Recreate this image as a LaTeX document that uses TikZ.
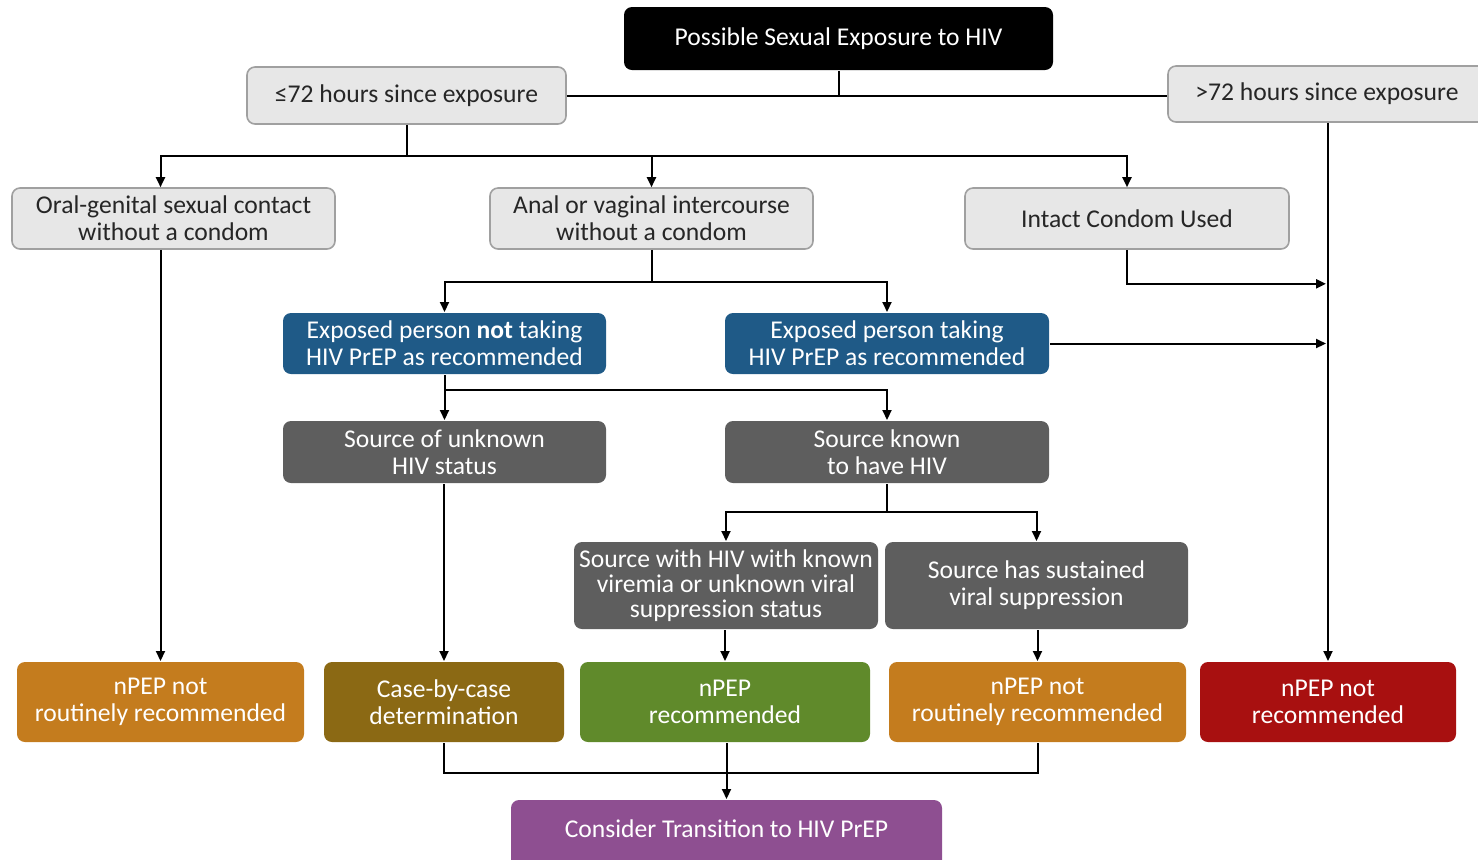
\documentclass[tikz,border=0pt]{standalone}
\usepackage{fontspec}
\setmainfont{Carlito}
\usetikzlibrary{arrows.meta}
\definecolor{boxgray}{RGB}{231,231,231}
\definecolor{boxline}{RGB}{160,160,160}
\definecolor{boxtext}{RGB}{38,38,38}
\definecolor{myblue}{RGB}{31,90,135}
\definecolor{mydark}{RGB}{94,94,94}
\definecolor{myorange}{RGB}{196,124,30}
\definecolor{myolive}{RGB}{139,105,20}
\definecolor{mygreen}{RGB}{96,138,43}
\definecolor{myred}{RGB}{168,16,16}
\definecolor{mypurple}{RGB}{142,79,145}
\begin{document}
\begin{tikzpicture}[x=0.5pt,y=-0.5pt,line width=1pt,
  box/.style={rounded corners=4pt,align=center,inner sep=0pt,
    font=\fontsize{12.8}{13.5}\selectfont},
  sz/.style n args={2}{minimum width=#1*0.5pt,minimum height=#2*0.5pt},
  lgbox/.style={box,fill=boxgray,draw=boxline,line width=0.8pt,text=boxtext},
  fbox/.style={box,fill=#1,text=white},
  arr/.style={-{Triangle[length=5pt,width=4.5pt]}}]

  \useasboundingbox (0,0) rectangle (1478,859);

  % top of the tree
  \node[fbox=black,sz={429}{63}] (top) at (838.5,38.5) {Possible Sexual Exposure to HIV};
  \node[lgbox,sz={319}{57}] (le72) at (406.5,95.5) {≤72 hours since exposure};
  \node[lgbox,sz={318}{56}] (gt72) at (1327,94) {>72 hours since exposure};

  \node[lgbox,sz={323}{61}] (oral) at (173.5,218.5) {Oral-genital sexual contact\\without a condom};
  \node[lgbox,sz={323}{61}] (anal) at (651.5,218.5) {Anal or vaginal intercourse\\without a condom};
  \node[lgbox,sz={324}{61}] (intact) at (1127,218.5) {Intact Condom Used};

  \node[fbox=myblue,sz={323}{61}] (noprep) at (444.5,343.5) {Exposed person \textbf{not} taking\\HIV PrEP as recommended};
  \node[fbox=myblue,sz={324}{61}] (prep) at (887,343.5) {Exposed person taking\\HIV PrEP as recommended};

  \node[fbox=mydark,sz={323}{62}] (unknown) at (444.5,452) {Source of unknown\\HIV status};
  \node[fbox=mydark,sz={324}{62}] (known) at (887,452) {Source known\\to have HIV};

  \node[fbox=mydark,sz={304}{87},font=\fontsize{12.8}{12.5}\selectfont] (viremia) at (726,585.5)
    {Source with HIV with known\\viremia or unknown viral\\suppression status};
  \node[fbox=mydark,sz={303}{87}] (supp) at (1036.5,585.5) {Source has sustained\\viral suppression};

  % outcomes
  \node[fbox=myorange,sz={287}{80}] (nrr1) at (160.5,702) {nPEP not\\routinely recommended};
  \node[fbox=myolive,sz={240}{80}] (case) at (444,702) {Case-by-case\\determination};
  \node[fbox=mygreen,sz={290}{80}] (rec) at (725,702) {nPEP\\recommended};
  \node[fbox=myorange,sz={297}{80}] (nrr2) at (1037.5,702) {nPEP not\\routinely recommended};
  \node[fbox=myred,sz={256}{80}] (notrec) at (1328,702) {nPEP not\\recommended};

  \node[fbox=mypurple,sz={431}{70},text height=9pt,text depth=7pt] (consider) at (726.5,835)
    {Consider Transition to HIV PrEP};

  % junctions
  \path (le72.south) ++(0,31) coordinate (j1);
  \path (anal.south) ++(0,32) coordinate (j2);
  \path (noprep.south) ++(0,15) coordinate (j3);
  \path (known.south) ++(0,28) coordinate (j4);
  \path (intact.south) ++(0,34) coordinate (j5);
  \path (case.south) ++(0,30) coordinate (j6);

  \draw (top.south) -- (top.south |- le72.east);
  \draw (le72.east) -- (le72.east -| gt72.west);

  \draw (le72.south) -- (j1);
  \draw[arr] (j1) -| (nrr1 |- oral.north);
  \draw[arr] (anal.north |- j1) -- (anal.north);
  \draw[arr] (j1) -| (intact.north);

  \draw (anal.south) -- (j2);
  \draw[arr] (j2) -| (noprep.north);
  \draw[arr] (j2) -| (prep.north);

  \draw (noprep.south) -- (j3);
  \draw[arr] (j3) -- (unknown.north);
  \draw[arr] (j3) -| (known.north);

  \draw (known.south) -- (j4);
  \draw[arr] (j4) -| (viremia.north);
  \draw[arr] (j4) -| (supp.north);

  % legs into the right column
  \draw[arr] (notrec |- gt72.south) -- (notrec.north);
  \draw[arr] (intact.south) -- (j5) -- ([xshift=-1pt]j5 -| notrec);
  \draw[arr] (prep.east) -- ([xshift=-1pt]prep.east -| notrec);

  % legs into the outcomes
  \draw[arr] (nrr1 |- oral.south) -- (nrr1.north);
  \draw[arr] (case |- unknown.south) -- (case.north);
  \draw[arr] (rec |- viremia.south) -- (rec.north);
  \draw[arr] (nrr2 |- supp.south) -- (nrr2.north);

  \draw (case.south) -- (j6) -- (j6 -| nrr2) -- (nrr2.south);
  \draw[arr] (consider |- rec.south) -- (consider.north);

\end{tikzpicture}
\end{document}
